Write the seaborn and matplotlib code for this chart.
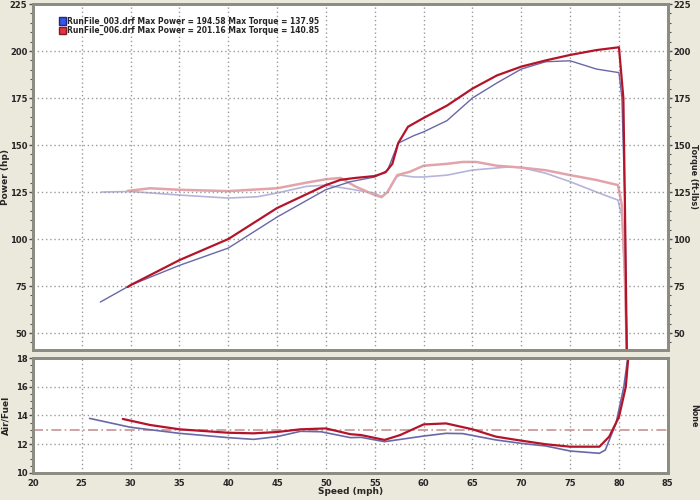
import numpy as np
import pandas as pd
import seaborn as sns
import matplotlib.pyplot as plt
from matplotlib.patches import Patch
from matplotlib.ticker import MultipleLocator

# данные
pwr003_mph = [26.9, 30, 35, 40, 45, 50, 52.5, 55, 56.3, 57.4, 59, 60, 62.4, 65, 67.5, 70, 72.5, 75, 77.7, 80, 80.3, 80.6, 80.8]
pwr003_hp = [66.5, 75.5, 86, 95.2, 111.7, 126.3, 130.5, 133, 136.5, 151, 155, 157, 163, 175, 183, 190.4, 194.3, 194.8, 190.4, 188.5, 175, 120, 42]

pwr006_mph = [29.7, 30, 35, 40, 45, 50, 51.5, 53, 55, 56.1, 56.8, 57.4, 58.4, 60, 62.4, 65, 67.5, 70, 72.5, 75, 77.7, 80, 80.45, 80.6, 80.8]
pwr006_hp = [74.5, 75.5, 88.8, 100, 116.5, 128.7, 131.5, 132.5, 133.5, 135.5, 140, 151, 159.7, 164.4, 171, 180, 187, 191.7, 195, 197.9, 200.5, 202, 175, 122, 41]

trq003_mph = [27, 30, 35, 40, 43, 45, 48, 50, 52, 55, 55.7, 56.3, 57.2, 57.6, 59, 60, 62.4, 65, 67.5, 69, 70, 72.5, 75, 77.7, 79.9, 80.3, 80.6, 80.8]
trq003_ft = [125, 125.3, 123.4, 121.8, 122.5, 124.5, 128, 128.7, 127, 124.4, 122.5, 125, 133, 134, 133, 133, 134, 136.7, 137.8, 138.5, 138, 135, 130.5, 125, 120.7, 112, 80, 41]

trq006_mph = [29.7, 32, 35, 40, 45, 48, 50, 51.5, 53, 55, 55.7, 56.3, 57.3, 58.6, 60, 62.4, 64, 65.4, 67.5, 70, 72.5, 75, 77.7, 79.9, 80.3, 80.6, 80.8]
trq006_ft = [125.6, 127, 126.2, 125.5, 127, 130, 131.8, 132.5, 128, 123.4, 122.3, 125, 134, 135.8, 139, 140, 141, 141, 139, 138, 136.6, 134, 131.4, 128.7, 118, 80, 41]

afr003_mph = [25.8, 30, 35, 40, 42.6, 45, 47.4, 49.5, 52.5, 53.6, 56, 60, 62.3, 64, 67.4, 70, 72.5, 75, 78, 78.6, 79.7, 80.5, 80.9]
afr003 = [13.8, 13.18, 12.76, 12.46, 12.34, 12.53, 12.9, 12.87, 12.46, 12.48, 12.18, 12.57, 12.76, 12.74, 12.3, 12.06, 11.88, 11.53, 11.37, 11.6, 13.46, 16.0, 18]

afr006_mph = [29.2, 32, 35, 40, 42.6, 45, 47.4, 50, 52.5, 53.6, 56, 57.6, 60, 62.3, 65, 67.4, 70, 72.5, 75, 78, 79, 80, 80.7, 80.95]
afr006 = [13.76, 13.34, 13.04, 12.8, 12.76, 12.85, 13.04, 13.1, 12.7, 12.64, 12.3, 12.64, 13.38, 13.45, 13.04, 12.53, 12.25, 12.0, 11.83, 11.83, 12.53, 13.9, 16.0, 18]

afr_target = 13.0
legend_labels = ['RunFile_003.drf Max Power = 194.58 Max Torque = 137.95',
                 'RunFile_006.drf Max Power = 201.16 Max Torque = 140.85']

# цвета
c_blue = '#6868a8'
c_red = '#b3142a'
c_blue_l = '#b4b4dc'
c_red_l = '#e2a4aa'
grid_c = '#9a9a9a'
frame_c = '#8c8c82'
bg = '#ebe8dc'

sns.set_style('white')
plt.rcParams['font.family'] = ['DejaVu Sans']
plt.rcParams['font.weight'] = 'bold'

fig = plt.figure(figsize=(7, 5), dpi=100, facecolor=bg)
ax = fig.add_axes([0.047, 0.30, 0.907, 0.692])
ax2 = fig.add_axes([0.047, 0.054, 0.907, 0.23])
axr = ax.twinx()
ax2r = ax2.twinx()


def draw(axis, x, y, color, lw):
    sns.lineplot(x=x, y=y, ax=axis, color=color, linewidth=lw, estimator=None, sort=False)


# мощность и момент
draw(axr, trq003_mph, trq003_ft, c_blue_l, 1.2)
draw(axr, trq006_mph, trq006_ft, c_red_l, 1.8)
draw(ax, pwr003_mph, pwr003_hp, c_blue, 1.0)
draw(ax, pwr006_mph, pwr006_hp, c_red, 1.6)
axr.patch.set_visible(True)
axr.set_facecolor('white')
ax.set_zorder(axr.get_zorder() + 1)
ax.patch.set_visible(False)

# AFR
ax2.axhline(afr_target, color='#c89494', linewidth=1.2, linestyle=(0, (6, 2, 1, 2)))
draw(ax2, afr003_mph, afr003, c_blue, 1.2)
draw(ax2, afr006_mph, afr006, c_red, 1.6)

for a in (ax, ax2):
    a.set_xlim(20, 85)
    a.xaxis.set_major_locator(MultipleLocator(5))
    a.xaxis.set_minor_locator(MultipleLocator(1))
    a.grid(True, which='major', color=grid_c, linestyle=(0, (1, 2)), linewidth=1)
    for s in a.spines.values():
        s.set_color(frame_c)
        s.set_linewidth(2)
ax2.set_facecolor('white')

for a in (ax, axr):
    a.set_ylim(41, 225)
    a.yaxis.set_major_locator(MultipleLocator(25))
    a.yaxis.set_minor_locator(MultipleLocator(5))
    for s in a.spines.values():
        s.set_color(frame_c)
        s.set_linewidth(2)

ax.set_xticklabels([])
ax.tick_params(axis='x', which='both', length=0)
ax.tick_params(axis='y', which='major', length=3, width=1, labelsize=6, color='#555555', pad=1)
ax.tick_params(axis='y', which='minor', length=2, width=0.8, color='#555555')
axr.tick_params(axis='y', which='major', length=3, width=1, labelsize=6, color='#555555', pad=1)
axr.tick_params(axis='y', which='minor', length=2, width=0.8, color='#555555')
ax.set_yticks([50, 75, 100, 125, 150, 175, 200, 225])
axr.set_yticks([50, 75, 100, 125, 150, 175, 200, 225])

ax2.set_ylim(10, 18)
ax2.yaxis.set_major_locator(MultipleLocator(2))
ax2.yaxis.set_minor_locator(MultipleLocator(0.5))
ax2.tick_params(axis='both', which='major', length=3, width=1, labelsize=6, color='#555555', pad=1)
ax2.tick_params(axis='both', which='minor', length=2, width=0.8, color='#555555')
ax2r.set_ylim(10, 18)
ax2r.set_yticks([])
for s in ax2r.spines.values():
    s.set_color(frame_c)
    s.set_linewidth(2)

ax.set_ylabel('Power (hp)', fontsize=6.5, fontweight='bold')
ax.yaxis.set_label_coords(-0.036, 0.5)
axr.set_ylabel('')
axr.text(1.041, 0.5, 'Torque (ft-lbs)', transform=axr.transAxes, rotation=270,
         ha='center', va='center', fontsize=5.8, fontweight='bold')
ax2.set_ylabel('Air/Fuel', fontsize=6.5, fontweight='bold')
ax2.yaxis.set_label_coords(-0.036, 0.5)
ax2r.set_ylabel('')
ax2r.text(1.041, 0.5, 'None', transform=ax2r.transAxes, rotation=270,
          ha='center', va='center', fontsize=5.8, fontweight='bold')
ax2.set_xlabel('Speed (mph)', fontsize=6.5, fontweight='bold', va='center')
ax2.xaxis.set_label_coords(0.5, -0.16)

handles = [Patch(facecolor='#3a55e8', edgecolor='#1c2a80', label=legend_labels[0]),
           Patch(facecolor='#e8323e', edgecolor='#801c24', label=legend_labels[1])]
ax.legend(handles=handles, loc='upper left', bbox_to_anchor=(0.035, 0.975), frameon=False,
          prop={'size': 5.5, 'weight': 'bold'}, handlelength=0.9, handleheight=1.1,
          labelspacing=0.05, handletextpad=0.2, borderpad=0)

fig.savefig('out.png', dpi=100, facecolor=bg)
